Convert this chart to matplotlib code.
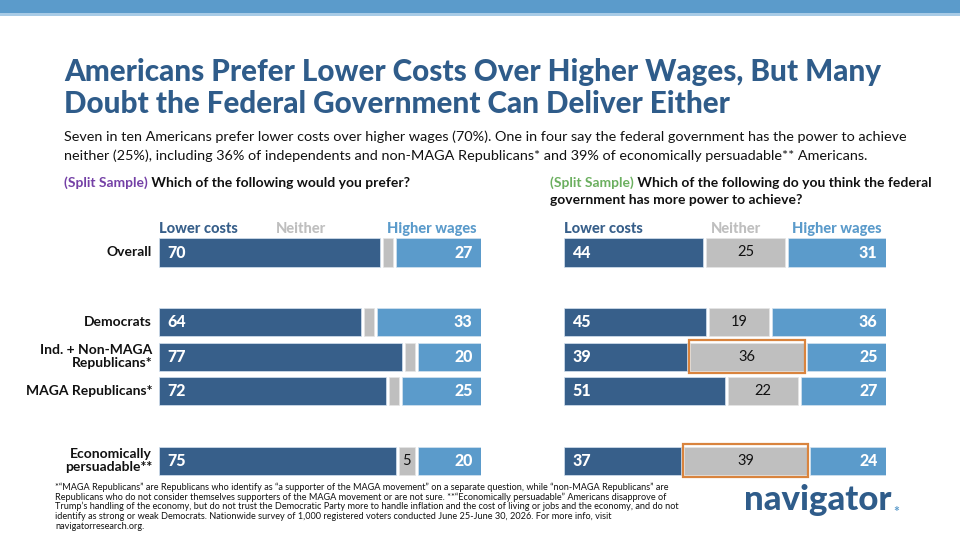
import matplotlib
matplotlib.use("Agg")
import matplotlib.pyplot as plt
from matplotlib.patches import Rectangle

# ---------------- data ----------------
groups = ["Overall", "Democrats", "Ind. + Non-MAGA\nRepublicans*",
          "MAGA Republicans*", "Economically\npersuadable**"]
series = ["Lower costs", "Neither", "Higher wages"]

prefer_lower = [70, 64, 77, 72, 75]
prefer_neither = [3, 3, 3, 3, 5]
prefer_higher = [27, 33, 20, 25, 20]

power_lower = [44, 45, 39, 51, 37]
power_neither = [25, 19, 36, 22, 39]
power_higher = [31, 36, 25, 27, 24]
power_highlight = [False, False, True, False, True]

title_lines = ["Americans Prefer Lower Costs Over Higher Wages, But Many",
               "Doubt the Federal Government Can Deliver Either"]
subtitle_lines = [
    "Seven in ten Americans prefer lower costs over higher wages (70%). One in four say the federal government has the power to achieve",
    "neither (25%), including 36% of independents and non-MAGA Republicans* and 39% of economically persuadable** Americans.",
]
q_left = "Which of the following would you prefer?"
q_right = ["Which of the following do you think the federal",
           "government has more power to achieve?"]
footnote_lines = [
    "*\u201cMAGA Republicans\u201d are Republicans who identify as \u201ca supporter of the MAGA movement\u201d on a separate question, while \u201cnon-MAGA Republicans\u201d are",
    "Republicans who do not consider themselves supporters of the MAGA movement or are not sure. **\u201cEconomically persuadable\u201d Americans disapprove of",
    "Trump\u2019s handling of the economy, but do not trust the Democratic Party more to handle inflation and the cost of living or jobs and the economy, and do not",
    "identify as strong or weak Democrats. Nationwide survey of 1,000 registered voters conducted June 25-June 30, 2026. For more info, visit",
    "navigatorresearch.org.",
]

# ---------------- style ----------------
DARK = "#375F8A"
LIGHT = "#5B9BCB"
GRAY = "#BFBFBF"
TITLE_C = "#2F5C8A"
ORANGE = "#D9843E"
PURPLE = "#7440A6"
GREEN = "#6BAF5F"
FONT = ["Lato", "DejaVu Sans"]
plt.rcParams["font.family"] = FONT

W, H = 960, 540
fig = plt.figure(figsize=(W / 100, H / 100), dpi=100)


def fx(px):
    return px / W


def fy(py):
    return 1 - py / H


# top band
fig.add_artist(Rectangle((0, fy(13)), 1, 13 / H, transform=fig.transFigure,
                         color="#5B9BCB", lw=0))
fig.add_artist(Rectangle((0, fy(15.5)), 1, 2.5 / H, transform=fig.transFigure,
                         color="#A8CBE6", lw=0))

# title
for i, line in enumerate(title_lines):
    fig.text(fx(64), fy(81 + 32 * i), line, fontsize=21.3, fontweight="black",
             color=TITLE_C, va="baseline", ha="left")

# subtitle
for i, line in enumerate(subtitle_lines):
    fig.text(fx(64), fy(141 + 19 * i), line, fontsize=10.4, color="#111111",
             va="baseline", ha="left")

ax_dummy = fig.add_axes([0, 0, 1, 1])
ax_dummy.axis("off")


def two_color(x, y, col, rest, size=10):
    t1 = ax_dummy.text(fx(x), fy(y), "(Split Sample)", fontsize=size,
                       fontweight="bold", color=col, va="baseline", ha="left",
                       transform=fig.transFigure)
    ax_dummy.annotate(" " + rest, xy=(1, 0), xycoords=t1, fontsize=size,
                      fontweight="bold", color="#111111", va="bottom", ha="left",
                      annotation_clip=False)


two_color(64, 187, PURPLE, q_left)
two_color(550, 187, GREEN, q_right[0])
fig.text(fx(550), fy(204), q_right[1], fontsize=10, fontweight="bold",
         color="#111111", va="baseline", ha="left")

# ---------------- panels ----------------
row_pos = [0, 2, 3, 4, 6]
PITCH = 34.7
ROW0 = 252.5
BH = 0.81
GAP = 1.0
top_px = ROW0 - PITCH
bot_px = ROW0 + 7 * PITCH


def make_ax(x0, x1):
    ax = fig.add_axes([fx(x0), fy(bot_px), (x1 - x0) / W, (bot_px - top_px) / H])
    ax.set_xlim(0, 102)
    ax.set_ylim(7, -1)
    ax.axis("off")
    return ax


def draw_panel(ax, lower, neither, higher, highlight, neither_x):
    left_n = [l + GAP for l in lower]
    left_h = [l + GAP + n + GAP for l, n in zip(lower, neither)]
    ax.barh(row_pos, lower, height=BH, color=DARK, edgecolor="#D5E3F0", lw=0.5)
    ax.barh(row_pos, neither, left=left_n, height=BH, color=GRAY,
            edgecolor="#E6E6E6", lw=0.5)
    ax.barh(row_pos, higher, left=left_h, height=BH, color=LIGHT,
            edgecolor="#D5E3F0", lw=0.5)
    for y, l, n, h, ln, lh, hl in zip(row_pos, lower, neither, higher,
                                      left_n, left_h, highlight):
        ax.annotate(str(l), (0, y), xytext=(6, 0), textcoords="offset points",
                    ha="left", va="center", color="white", fontsize=11.5,
                    fontweight="black")
        ax.annotate(str(h), (lh + h, y), xytext=(-6, 0), textcoords="offset points",
                    ha="right", va="center", color="white", fontsize=11.5,
                    fontweight="black")
        if n >= 5:
            ax.text(ln + n / 2, y, str(n), ha="center", va="center",
                    color="#111111", fontsize=10.5)
        if hl:
            ax.add_patch(Rectangle((ln - 0.4, y - BH / 2 - 0.07), n + 0.8, BH + 0.14,
                                   fill=False, edgecolor=ORANGE, lw=1.6,
                                   clip_on=False, zorder=5))
    hy = -0.68
    ax.text(0, hy, series[0], color=DARK, fontsize=10.5, fontweight="black",
            ha="left", va="center")
    ax.text(neither_x, hy, series[1], color=GRAY, fontsize=10.5, fontweight="black",
            ha="center", va="center")
    ax.text(100.5, hy, series[2], color=LIGHT, fontsize=10.5, fontweight="black",
            ha="right", va="center")


axL = make_ax(159, 481)
draw_panel(axL, prefer_lower, prefer_neither, prefer_higher,
           [False] * len(groups), 45)
for y, g in zip(row_pos, groups):
    axL.annotate(g, (0, y), xytext=(-5, 0), textcoords="offset points",
                 ha="right", va="center", fontsize=10, fontweight="bold",
                 color="#111111", linespacing=1.05, annotation_clip=False)

axR = make_ax(564, 886)
draw_panel(axR, power_lower, power_neither, power_higher, power_highlight, 54.5)

# footnote
for i, line in enumerate(footnote_lines):
    fig.text(fx(55), fy(490 + 9.7 * i), line, fontsize=6.6, color="#111111",
             va="baseline", ha="left")

# logo
logo = ax_dummy.text(fx(744), fy(510), "navigator", fontsize=25, fontweight="black",
                     color=TITLE_C, va="baseline", ha="left",
                     transform=fig.transFigure)
fig.canvas.draw()
bb = logo.get_window_extent()
fig.text((bb.x1 + 2) / W, fy(516), "*", fontsize=10, fontweight="bold",
         color=LIGHT, va="baseline", ha="left")

fig.savefig("out.png", dpi=100)
